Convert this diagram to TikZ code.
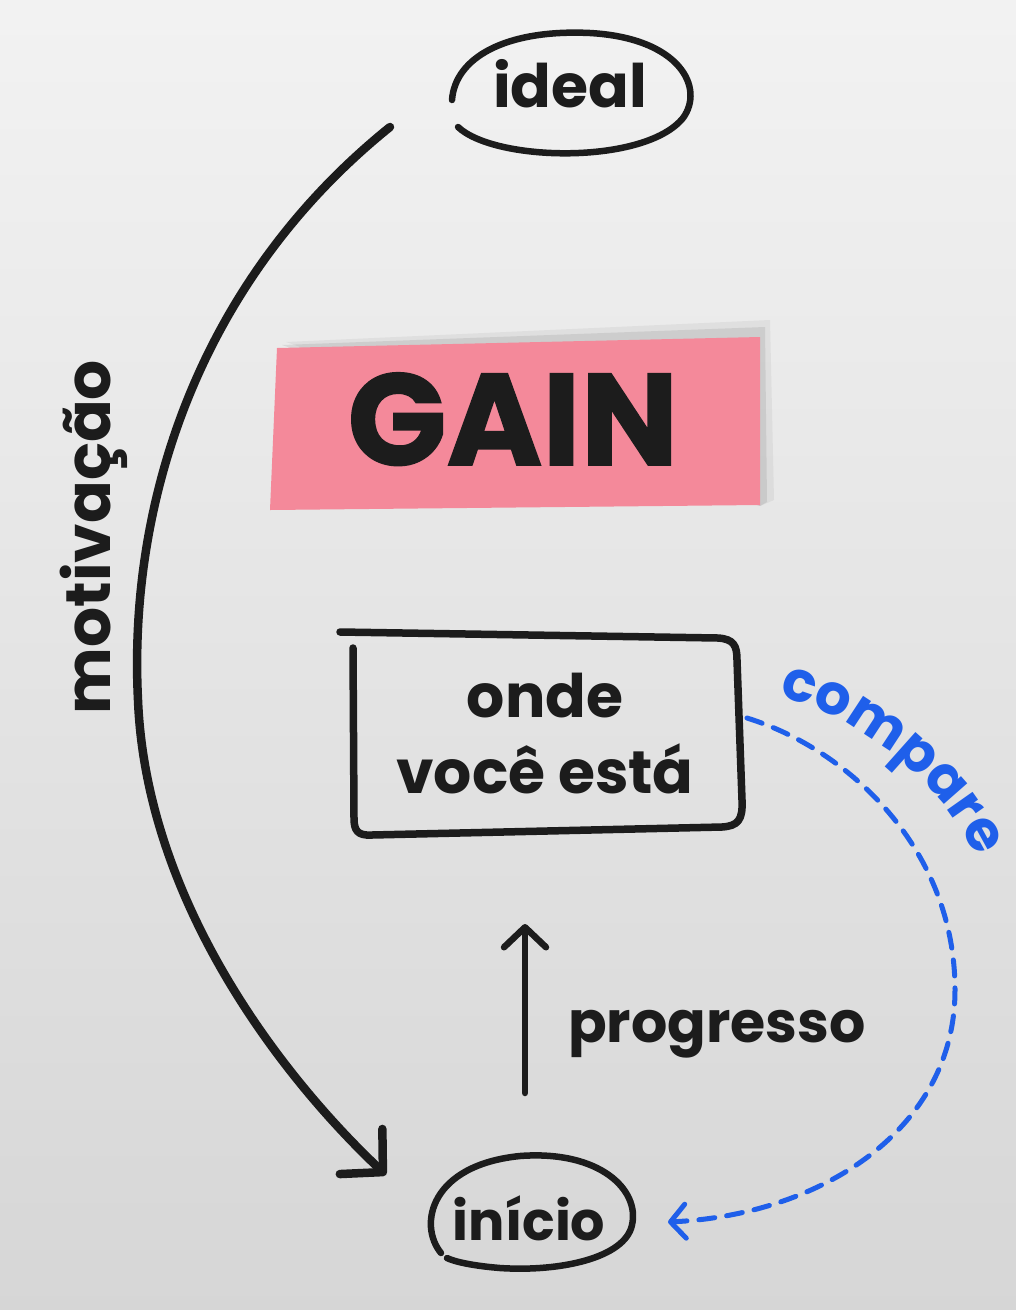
\documentclass[tikz,border=0pt]{standalone}
\usepackage{fontspec}
\setmainfont{Poppins}
\usetikzlibrary{arrows.meta,decorations.text,shapes.geometric}
\definecolor{ink}{HTML}{1C1C1C}
\definecolor{pinkbg}{HTML}{F4899A}
\definecolor{bluec}{HTML}{1F5FEA}
\tikzset{
  lbl/.style={font=\fontsize{60}{60}\selectfont\bfseries, text=ink, inner sep=0pt},
  hand/.style={draw=ink, line width=7pt, line cap=round, line join=round},
  bluedash/.style={draw=bluec, line width=5pt, dash pattern=on 16pt off 12pt, line cap=round},
}
\begin{document}
\begin{tikzpicture}[x=1pt,y=-1pt]
\useasboundingbox (0,0) rectangle (1016,1310);
\shade[top color=white!95!black, bottom color=white!84!black] (0,0) rectangle (1016,1310);

% ideal
\node[lbl, anchor=base] (ideal) at (570,107) {ideal};
\draw[hand, line width=6.5pt] (458,127) .. controls (495,162) and (645,165) .. (683,118)
  .. controls (705,88) and (680,38) .. (590,33)
  .. controls (505,29) and (455,58) .. (452,100);

% GAIN
\fill[black, opacity=0.05] (286,342) -- (770,320) -- (774,500) -- (760,506) -- cycle;
\fill[black, opacity=0.08] (282,345) -- (765,327) -- (767,502) -- (760,506) -- cycle;
\fill[pinkbg] (277,348) -- (760,337) -- (760,505) -- (270,510) -- cycle;
\node[font=\fontsize{130}{130}\selectfont\bfseries\addfontfeature{FakeBold=1.2}, text=ink, inner sep=0pt, anchor=base] (gain) at (513,465) {GAIN};

% onde voce esta
\node[lbl, anchor=base] (onde) at (545,717) {onde};
\node[lbl, anchor=base] (voce) at (545,793) {você está};
\draw[hand, line width=7.5pt] (340,632) -- (718,638) .. controls (734,639) and (737,646) .. (737,660)
  -- (742,800) .. controls (743,820) and (738,826) .. (722,827)
  -- (372,835) .. controls (357,836) and (354,830) .. (354,818) -- (353,648);

% inicio
\node[lbl, font=\fontsize{54}{54}\selectfont\bfseries, anchor=base] (inicio) at (529,1240) {início};
\draw[hand, line width=6.5pt] (441,1253) .. controls (418,1225) and (430,1165) .. (520,1156)
  .. controls (600,1150) and (640,1190) .. (632,1225)
  .. controls (625,1258) and (560,1272) .. (500,1268)
  .. controls (475,1266) and (455,1262) .. (447,1258);

% motivacao
\coordinate (motS) at (390,127);
\coordinate (motE) at (386,1175);
\draw[hand, line width=8.5pt, -{Straight Barb[length=30pt,width=62pt,line cap=round,line join=round]}] (motS)
  .. controls (200,280) and (128,500) .. (138,700)
  .. controls (146,900) and (280,1075) .. (motE);
\node[lbl, font=\fontsize{63}{63}\selectfont\bfseries, rotate=90, anchor=base] (motlbl) at (110,537) {motivação};

% progresso
\coordinate (progS) at (525,1093);
\coordinate (progE) at (525,924);
\draw[hand, line width=6.5pt, -{Straight Barb[length=20pt,width=42pt,line cap=round,line join=round]}] (progS) -- (progE);
\node[lbl, font=\fontsize{57}{57}\selectfont\bfseries, anchor=base west] (proglbl) at (568,1042) {progresso};

% compare
\coordinate (cmpS) at (747,718);
\coordinate (cmpE) at (668,1222);
\draw[bluedash, -{Straight Barb[length=15pt,width=34pt,line cap=round,line join=round]}] (cmpS)
  .. controls (850,750) and (955,850) .. (955,990)
  .. controls (955,1130) and (820,1215) .. (cmpE);
\path[decorate, decoration={text along path, text align=center,
  text={|\fontsize{56}{56}\selectfont\bfseries\color{bluec}|compare}}]
  (755,690) .. controls (860,710) and (955,790) .. (985,880);
\end{tikzpicture}
\end{document}
